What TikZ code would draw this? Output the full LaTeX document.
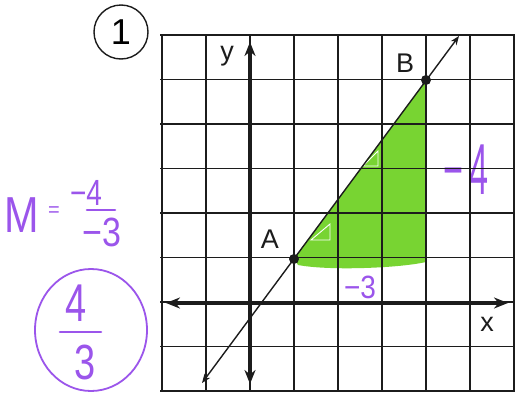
\documentclass[tikz,border=0pt]{standalone}
\usepackage{fontspec}
\setmainfont{Liberation Sans}
\usetikzlibrary{arrows.meta}
\definecolor{inkk}{RGB}{28,28,28}
\definecolor{hlgreen}{RGB}{120,212,50}
\definecolor{pen}{RGB}{155,85,235}
\tikzset{
  gridline/.style={inkk, line width=1.8pt},
  axisline/.style={inkk, line width=4.6pt},
  diagline/.style={inkk, line width=1.4pt},
  dotnode/.style={circle, fill=inkk, inner sep=0pt, minimum size=10pt},
  lbl/.style={inkk, inner sep=0pt, font=\fontsize{27}{30}\selectfont},
  pentext/.style={pen, inner sep=0pt},
  penline/.style={pen, line width=2.6pt, line cap=round},
}
\begin{document}
\begin{tikzpicture}[x=1pt,y=-1pt]
\useasboundingbox (0,0) rectangle (522,402);
\fill[white] (0,0) rectangle (522,402);

% green highlighted triangle
\fill[hlgreen] (294,259) -- (426,80) -- (426,262) .. controls (400,268) and (330,271) .. (298,265) -- cycle;
% small white slope marks
\draw[white, line width=0.9pt] (363,166) -- (378,166) -- (378,151) -- cycle;
\draw[white, line width=0.9pt] (311,240) -- (330,240) -- (330,224) -- cycle;

% purple annotations inside the grid (under the grid lines)
\node[pentext] (m4) at (466,170) {\scalebox{0.9}[1.9]{\fontsize{38}{40}\selectfont −\,4}};
\node[pentext] (m3) at (360,287) {\scalebox{1}[1.15]{\fontsize{28}{30}\selectfont −3}};

% grid
\foreach \i in {0,...,8} {
  \draw[gridline] ({162+44*\i},35) -- ({162+44*\i},391);
  \draw[gridline] (160,{35+44.5*\i}) -- (515,{35+44.5*\i});
}

% axes
\coordinate (xl) at (166,303);
\coordinate (xr) at (508,303);
\coordinate (yt) at (250,42);
\coordinate (yb) at (250,384);
\draw[axisline, {Stealth[length=14pt,width=11pt]}-{Stealth[length=14pt,width=11pt]}] (xl) -- (xr);
\draw[axisline, {Stealth[length=14pt,width=11pt]}-{Stealth[length=14pt,width=11pt]}] (yb) -- (yt);

% points and line
\node[dotnode] (A) at (294,259) {};
\node[dotnode] (B) at (426,80) {};
\coordinate (L1) at (202,383);
\coordinate (L2) at (459,36);
\draw[diagline, {Stealth[length=9pt,width=7pt]}-{Stealth[length=9pt,width=7pt]}] (L1) -- (L2);

% labels
\node[lbl] (la) at (270,239) {A};
\node[lbl] (lb) at (405,63) {B};
\node[lbl] (ly) at (227,56) {y};
\node[lbl] (lx) at (487,324) {x};

% circled number
\node[draw=inkk, circle, line width=1.4pt, minimum size=54pt, inner sep=0pt,
      font=\fontsize{36}{38}\selectfont] (n1) at (121,32) {1};

% slope work
\node[pentext] (mm) at (22,215) {\scalebox{0.9}[1.1]{\fontsize{46}{48}\selectfont M}};
\node[pentext] (eq) at (54,212) {\fontsize{20}{22}\selectfont =};
\node[pentext] (num) at (86,193) {\scalebox{1}[1.3]{\fontsize{28}{30}\selectfont −4}};
\draw[penline] (87,210) -- (115,210);
\node[pentext] (den) at (102,232) {\scalebox{1}[1.2]{\fontsize{34}{36}\selectfont −3}};

% circled answer
\draw[pen, line width=1.8pt] (91,330) ellipse [x radius=56pt, y radius=61pt];
\node[pentext] (a4) at (76,303) {\scalebox{1}[1.4]{\fontsize{38}{40}\selectfont 4}};
\draw[penline] (60,332) -- (101,332);
\node[pentext] (a3) at (85,362) {\scalebox{1}[1.3]{\fontsize{38}{40}\selectfont 3}};
\end{tikzpicture}
\end{document}
